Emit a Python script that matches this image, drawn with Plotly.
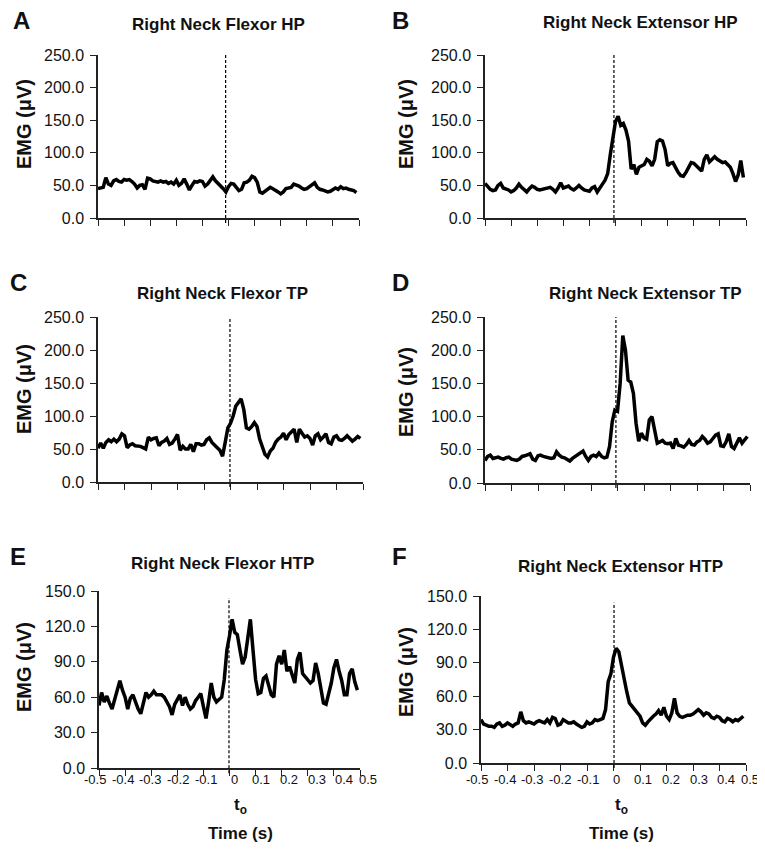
import numpy as np
import plotly.graph_objects as go

# 100 samples, -0.50 s .. 0.49 s
time_s = np.round(np.arange(-0.50, 0.495, 0.01), 2)

flexor_hp = [45, 46, 47, 62, 52, 50, 57, 59, 56, 55, 59, 58, 59, 56, 52, 46, 50, 51, 44, 61,
             60, 57, 56, 55, 57, 55, 56, 53, 55, 52, 58, 50, 53, 60, 52, 43, 50, 56, 55, 57,
             56, 49, 52, 58, 63, 57, 53, 50, 45, 40, 48, 53, 52, 47, 42, 44, 54, 55, 58, 64,
             62, 55, 40, 38, 41, 44, 47, 45, 43, 40, 37, 40, 45, 46, 47, 52, 51, 49, 46, 44,
             45, 48, 50, 54, 47, 44, 43, 42, 40, 41, 43, 46, 44, 48, 45, 46, 44, 43, 42, 39]

extensor_hp = [53, 48, 44, 42, 43, 50, 53, 46, 45, 43, 40, 42, 46, 52, 47, 43, 40, 45, 49, 47,
               44, 43, 44, 45, 46, 47, 44, 40, 46, 54, 46, 47, 49, 45, 43, 46, 50, 46, 43, 42,
               41, 46, 48, 40, 45, 52, 58, 68, 97, 120, 148, 156, 142, 145, 135, 118, 75, 82, 67, 78,
               80, 82, 90, 87, 80, 90, 117, 120, 118, 105, 80, 84, 85, 76, 70, 65, 64, 70, 78, 85,
               84, 80, 75, 72, 90, 97, 86, 90, 94, 90, 88, 85, 86, 82, 78, 68, 56, 66, 88, 62]

flexor_tp = [51, 59, 51, 60, 64, 61, 65, 61, 65, 73, 70, 52, 56, 58, 55, 55, 54, 52, 50, 68,
             64, 66, 67, 55, 60, 62, 66, 57, 59, 65, 72, 48, 54, 50, 50, 57, 46, 58, 58, 56,
             57, 64, 67, 60, 55, 52, 48, 39, 60, 82, 89, 100, 115, 120, 126, 110, 82, 80, 84, 90,
             84, 65, 52, 42, 38, 47, 51, 60, 65, 68, 74, 64, 72, 76, 80, 60, 80, 74, 68, 70,
             66, 56, 70, 73, 64, 68, 73, 60, 58, 68, 70, 64, 63, 66, 70, 66, 62, 65, 69, 66]

extensor_tp = [34, 40, 42, 37, 38, 39, 37, 36, 38, 39, 36, 35, 34, 36, 40, 41, 42, 44, 36, 34,
               41, 42, 40, 39, 39, 37, 38, 47, 42, 39, 38, 36, 33, 37, 40, 43, 46, 48, 40, 34,
               40, 42, 40, 45, 40, 38, 39, 55, 92, 110, 108, 150, 222, 200, 155, 152, 135, 90, 63, 75,
               68, 66, 95, 100, 80, 60, 62, 64, 60, 59, 60, 52, 67, 57, 56, 54, 58, 64, 58, 57,
               62, 64, 70, 66, 60, 62, 67, 72, 74, 56, 55, 62, 74, 55, 52, 60, 68, 60, 65, 70]

flexor_htp = [53, 64, 56, 61, 55, 50, 58, 65, 74, 66, 60, 50, 59, 62, 55, 50, 46, 56, 64, 60,
              62, 65, 62, 62, 62, 60, 56, 52, 45, 54, 58, 62, 53, 60, 54, 50, 52, 57, 60, 63,
              52, 42, 56, 72, 60, 56, 58, 60, 75, 100, 112, 126, 115, 113, 100, 88, 94, 108, 126, 100,
              75, 63, 64, 76, 78, 70, 62, 60, 88, 95, 88, 100, 82, 86, 78, 72, 92, 98, 80, 77,
              74, 72, 74, 89, 80, 65, 55, 54, 62, 72, 85, 92, 82, 74, 62, 62, 80, 84, 73, 66]

extensor_htp = [39, 35, 34, 33, 33, 32, 35, 36, 33, 34, 36, 34, 33, 35, 36, 46, 38, 36, 37, 36,
                35, 37, 38, 37, 36, 39, 36, 41, 40, 34, 35, 39, 37, 36, 36, 37, 35, 33, 32, 33,
                37, 35, 36, 39, 38, 39, 40, 48, 73, 80, 95, 103, 100, 88, 75, 64, 54, 51, 48, 46,
                42, 36, 34, 37, 40, 42, 44, 47, 43, 50, 42, 39, 45, 58, 45, 42, 41, 42, 43, 43,
                44, 46, 48, 46, 43, 45, 44, 41, 40, 42, 41, 38, 37, 40, 39, 37, 39, 38, 40, 42]

series = [flexor_hp, extensor_hp, flexor_tp, extensor_tp, flexor_htp, extensor_htp]
panel_letters = ["A", "B", "C", "D", "E", "F"]
panel_titles = ["Right Neck Flexor HP", "Right Neck Extensor HP",
                "Right Neck Flexor TP", "Right Neck Extensor TP",
                "Right Neck Flexor HTP", "Right Neck Extensor HTP"]
onset_s = [-0.011, -0.006, -0.002, -0.006, -0.002, 0.002]
y_max = [250, 250, 250, 250, 150, 150]
y_step = [50, 50, 50, 50, 30, 30]
x_ticks = [-0.5, -0.4, -0.3, -0.2, -0.1, 0, 0.1, 0.2, 0.3, 0.4, 0.5]
x_tick_text = ["-0.5", "-0.4", "-0.3", "-0.2", "-0.1", "0", "0.1", "0.2", "0.3", "0.4", "0.5"]

# the page body has an 8px margin on every side; keep the page inside the window
PAD = 8
W, H = 765 - PAD, 855 - 2 * PAD
FONT = "Liberation Sans, Arial, sans-serif"
INK = "#111111"


def fx(x):
    return (x - PAD) / W


def fy(y):
    return 1 - (y - PAD) / H


# plot boxes in window pixels: left, right, top, bottom
panel_box = [(98, 359, 55, 218), (485, 746, 55, 218),
             (98, 363, 317, 482), (485, 750, 317, 483),
             (99, 360, 591, 768), (481, 746, 596, 763)]

# pixel positions (in the 765x855 window) of the free text
title_px = [(219, 25), (640, 23), (222, 293), (645, 293), (222, 563), (620, 566)]
letter_px = [(21, 21), (401, 21), (18, 282), (401, 282), (18, 556), (399, 556)]
ylabel_px = [(24, 124), (406, 124), (24, 389), (406, 392), (24, 667), (406, 672)]
# the time labels of the original are spread a little wider than their ticks
xlabel_offset_px = [-4, 24, 51, 79, 107, 135, 162, 190, 218, 245, 269]


def note(text, xy, size, angle=0):
    return dict(text=text, x=fx(xy[0]), y=fy(xy[1]), xref="paper", yref="paper",
                xanchor="center", yanchor="middle", textangle=angle, showarrow=False,
                font=dict(family=FONT, size=size, color=INK))


fig = go.Figure()
annotations = []
shapes = []
layout = {}

for i, values in enumerate(series):
    n = i + 1
    xa = "x" if n == 1 else f"x{n}"
    ya = "y" if n == 1 else f"y{n}"
    left, right, top_px, bottom_px = panel_box[i]

    fig.add_trace(go.Scatter(x=time_s, y=values, mode="lines",
                             line=dict(color="black", width=3.5),
                             xaxis=xa, yaxis=ya, showlegend=False))

    bottom = i >= 4
    layout["xaxis" if n == 1 else f"xaxis{n}"] = dict(
        domain=[fx(left), fx(right)], anchor=ya, range=[-0.5, 0.5], automargin=False,
        showline=True, linecolor="#222", linewidth=1.5, showgrid=False, zeroline=False,
        ticks="outside", ticklen=6, tickwidth=1.2, tickcolor="#222",
        tickvals=x_ticks, showticklabels=False,
    )
    layout["yaxis" if n == 1 else f"yaxis{n}"] = dict(
        domain=[fy(bottom_px), fy(top_px)], anchor=xa, range=[0, y_max[i]], automargin=False,
        showline=True, linecolor="#222", linewidth=1.5, showgrid=False, zeroline=False,
        ticks="outside", ticklen=6, tickwidth=1.2, tickcolor="#222",
        tick0=0, dtick=y_step[i], tickformat=".1f", ticklabelstandoff=3,
        tickfont=dict(family=FONT, size=16, color=INK),
    )

    top = 0.96 if bottom else 1.0
    shapes.append(dict(type="line", xref=xa, yref=f"{ya} domain",
                       x0=onset_s[i], x1=onset_s[i], y0=-0.03, y1=top,
                       line=dict(color="black", width=1.2, dash="3px,2px")))

    annotations.append(note(f"<b>{panel_titles[i]}</b>", title_px[i], 17))
    annotations.append(note(f"<b>{panel_letters[i]}</b>", letter_px[i], 24))
    annotations.append(note("<b>EMG (μV)</b>", ylabel_px[i], 20, angle=-90))

    if bottom:
        for label, off in zip(x_tick_text, xlabel_offset_px):
            annotations.append(note(label, (left + off, 779), 13))

for cx in [240, 621]:
    annotations.append(note("<b>t<sub>o</sub></b>", (cx, 806), 17))
    annotations.append(note("<b>Time (s)</b>", (cx, 833), 17))

fig.update_layout(
    width=W, height=H,
    margin=dict(l=0, r=0, t=0, b=0),
    paper_bgcolor="white", plot_bgcolor="white",
    annotations=annotations, shapes=shapes,
    **layout,
)

fig.write_html("out.html")
